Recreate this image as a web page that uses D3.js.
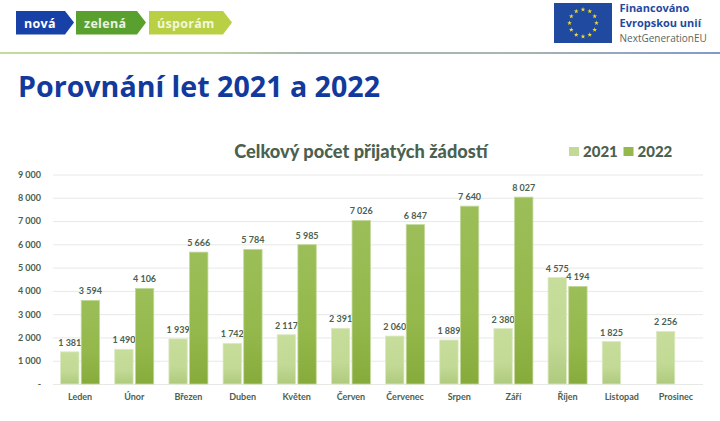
<!DOCTYPE html>
<html>
<head>
<meta charset="utf-8">
<script src="https://cdn.jsdelivr.net/npm/d3@7"></script>
<style>
  html, body { margin: 0; padding: 0; background: #fff; }
  svg { display: block; }
</style>
</head>
<body>
<div class="graph-container"></div>
<script>
const months = ["Leden","Únor","Březen","Duben","Květen","Červen","Červenec","Srpen","Září","Říjen","Listopad","Prosinec"];
const values2021 = [1381,1490,1939,1742,2117,2391,2060,1889,2380,4575,1825,2256];
const values2022 = [3594,4106,5666,5784,5985,7026,6847,7640,8027,4194,null,null];
const yearNames = ["2021","2022"];
const yTicks = [0,1000,2000,3000,4000,5000,6000,7000,8000,9000];
const tags = ["nová","zelená","úsporám"];
const logoLines = ["Financováno","Evropskou unií","NextGenerationEU"];

const dims = { width: 720, height: 421, left: 53, right: 703, top: 174.5, bottom: 384 };
const chartFont = "Lato, sans-serif";
const inkColor = "#4b6150";

const svg = d3.select(".graph-container").append("svg")
  .attr("width", dims.width)
  .attr("height", dims.height);

const fmt = v => v === 0 ? "-" : d3.format(",")(v).replace(/,/g, " ");

// gradients for the bars
const defs = svg.append("defs");
const addGradient = (id, top, mid, bottom) => {
  const g = defs.append("linearGradient").attr("id", id).attr("x1", 0).attr("x2", 0).attr("y1", 0).attr("y2", 1);
  g.append("stop").attr("offset", "0%").attr("stop-color", top);
  g.append("stop").attr("offset", "60%").attr("stop-color", mid);
  g.append("stop").attr("offset", "100%").attr("stop-color", bottom);
};
addGradient("grad2021", "#c6dd9b", "#c3da96", "#afca7d");
addGradient("grad2022", "#9cbe59", "#94b84b", "#87ab3b");

const rule = defs.append("linearGradient").attr("id", "gradRule").attr("gradientUnits", "userSpaceOnUse")
  .attr("x1", 0).attr("x2", 720).attr("y1", 0).attr("y2", 0);
rule.append("stop").attr("offset", "0%").attr("stop-color", "#9cc35a");
rule.append("stop").attr("offset", "30%").attr("stop-color", "#93b565");
rule.append("stop").attr("offset", "42%").attr("stop-color", "#6f8578");
rule.append("stop").attr("offset", "70%").attr("stop-color", "#6f8a78");
rule.append("stop").attr("offset", "100%").attr("stop-color", "#2f55ab");

// header
const tagShapes = [
  { x: 16, w: 58, fill: "#1741a6", color: "#fff" },
  { x: 76, w: 70, fill: "#5aa02f", color: "#eaf3e0" },
  { x: 149, w: 83, fill: "#b9d044", color: "#f3f7dc" }
];
const tagG = svg.append("g").selectAll("g").data(tags).enter().append("g")
  .attr("transform", (d, i) => `translate(${tagShapes[i].x},11)`);
tagG.append("path")
  .attr("d", (d, i) => {
    const w = tagShapes[i].w;
    return `M0,0H${w - 9}L${w},11.5L${w - 9},23.5H0Z`;
  })
  .attr("fill", (d, i) => tagShapes[i].fill);
tagG.append("text").text(d => d)
  .attr("x", 8).attr("y", 16.5)
  .attr("font-family", "'Open Sans', sans-serif").attr("font-weight", 700).attr("font-size", 12.5)
  .attr("letter-spacing", 0.3)
  .attr("fill", (d, i) => tagShapes[i].color);

svg.append("rect").attr("x", 0).attr("y", 52.4).attr("width", 720).attr("height", 1.2)
  .attr("fill", "url(#gradRule)");

svg.append("text").text("Porovnání let 2021 a 2022")
  .attr("x", 18).attr("y", 97)
  .attr("font-family", "'Open Sans', sans-serif").attr("font-weight", 700).attr("font-size", 28.6)
  .attr("fill", "#123a9c");

// EU logo
const flag = svg.append("g").attr("transform", "translate(554,3)");
flag.append("rect").attr("width", 58).attr("height", 40).attr("fill", "#1f4aa0");
flag.selectAll("path").data(d3.range(12)).enter().append("path")
  .attr("d", d3.symbol().type(d3.symbolStar).size(7))
  .attr("fill", "#f5dc2c")
  .attr("transform", d => {
    const a = d / 12 * 2 * Math.PI;
    return `translate(${29 + 13.5 * Math.sin(a)},${20 - 13.5 * Math.cos(a)})`;
  });
svg.append("g").selectAll("text").data(logoLines).enter().append("text")
  .text(d => d)
  .attr("x", 619.5)
  .attr("y", (d, i) => [12, 27, 42][i])
  .attr("font-family", "'Open Sans', sans-serif")
  .attr("font-weight", (d, i) => i < 2 ? 700 : 400)
  .attr("font-size", (d, i) => i < 2 ? 11 : 10)
  .attr("fill", (d, i) => i < 2 ? "#1f4aa0" : "#5a665e");

// scales
const x = d3.scaleBand().domain(months).range([dims.left, dims.right]).paddingInner(0.28).paddingOuter(0.14);
const xSeries = d3.scaleBand().domain(yearNames).range([0, x.bandwidth()]).paddingInner(0.11);
const y = d3.scaleLinear().domain([0, 9000]).range([dims.bottom, dims.top]);

// grid + axes
const yAxis = d3.axisLeft(y).tickValues(yTicks).tickFormat(fmt).tickSize(dims.left - dims.right).tickPadding(12);
const yG = svg.append("g").attr("transform", `translate(${dims.left},0)`).call(yAxis);
yG.select(".domain").remove();
yG.selectAll(".tick line").attr("stroke", "#e6e9e6").attr("stroke-width", 1);
yG.selectAll(".tick text")
  .attr("font-family", chartFont).attr("font-weight", 700).attr("font-size", 9).attr("fill", inkColor);

const xAxis = d3.axisBottom(x).tickSize(0).tickPadding(10);
const xG = svg.append("g").attr("transform", `translate(0,${dims.bottom})`).call(xAxis);
xG.select(".domain").remove();
xG.selectAll(".tick text")
  .attr("font-family", chartFont).attr("font-weight", 700).attr("font-size", 9).attr("fill", inkColor);

// bars
const series = [
  { name: "2021", values: values2021, fill: "url(#grad2021)", stroke: "#dbe9c2" },
  { name: "2022", values: values2022, fill: "url(#grad2022)", stroke: "#c3d89c" }
];
series.forEach(s => {
  const rows = months.map((m, i) => ({ month: m, value: s.values[i] })).filter(d => d.value != null);
  const g = svg.append("g").attr("class", "series-" + s.name);
  g.selectAll("rect").data(rows).enter().append("rect")
    .attr("x", d => x(d.month) + xSeries(s.name))
    .attr("y", d => y(d.value))
    .attr("width", xSeries.bandwidth())
    .attr("height", d => y(0) - y(d.value))
    .attr("fill", s.fill)
    .attr("stroke", s.stroke)
    .attr("stroke-width", 0.8);
  g.selectAll("text").data(rows).enter().append("text")
    .text(d => fmt(d.value))
    .attr("x", d => x(d.month) + xSeries(s.name) + xSeries.bandwidth() / 2)
    .attr("y", d => y(d.value) - 6)
    .attr("text-anchor", "middle")
    .attr("font-family", chartFont).attr("font-weight", 700).attr("font-size", 9).attr("fill", inkColor);
});

// title and legend
svg.append("text").text("Celkový počet přijatých žádostí")
  .attr("x", 361).attr("y", 157.5)
  .attr("text-anchor", "middle")
  .attr("font-family", chartFont).attr("font-weight", 900).attr("font-size", 18.2).attr("fill", inkColor);

const legend = svg.append("g").selectAll("g").data(series).enter().append("g")
  .attr("transform", (d, i) => `translate(${569 + i * 54.5},146)`);
legend.append("rect").attr("width", 10).attr("height", 9).attr("y", 1)
  .attr("fill", (d, i) => i ? "#94b84b" : "#c3da96");
legend.append("text").text(d => d.name)
  .attr("x", 14).attr("y", 10.5)
  .attr("font-family", chartFont).attr("font-weight", 900).attr("font-size", 15).attr("fill", inkColor);
</script>
</body>
</html>
